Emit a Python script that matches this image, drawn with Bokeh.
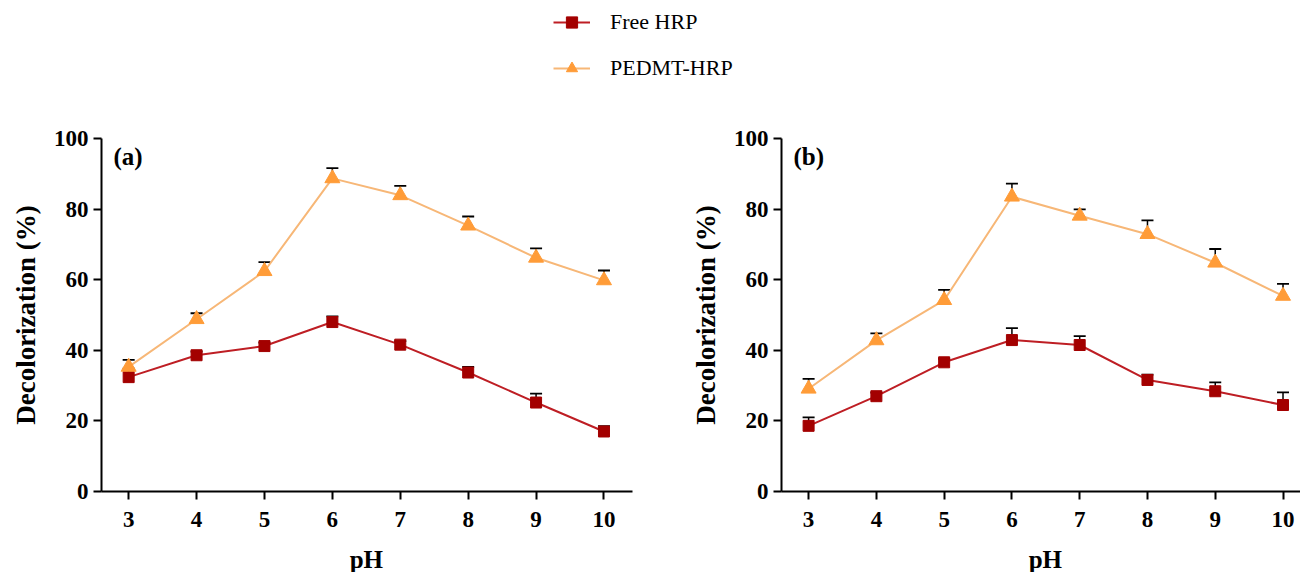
from bokeh.plotting import figure
from bokeh.models import (ColumnDataSource, Range1d, Whisker, TeeHead, Legend,
                          LegendItem, Label, FixedTicker)
from bokeh.layouts import column, row
from bokeh.embed import file_html
from bokeh.resources import INLINE

# ---------------- data ----------------
ph = [3, 4, 5, 6, 7, 8, 9, 10]
y_ticks = [0, 20, 40, 60, 80, 100]

free_a = [32.4, 38.6, 41.2, 48.0, 41.6, 33.7, 25.2, 17.0]
free_a_err = [2.4, 1.0, 1.0, 1.6, 1.0, 1.6, 2.5, 1.5]
pedmt_a = [35.3, 48.8, 62.4, 88.7, 83.9, 75.3, 66.2, 59.8]
pedmt_a_err = [2.0, 1.7, 2.6, 2.9, 2.7, 2.6, 2.7, 2.8]

free_b = [18.6, 27.0, 36.6, 42.9, 41.5, 31.6, 28.4, 24.5]
free_b_err = [2.4, 1.0, 1.0, 3.4, 2.5, 1.5, 2.5, 3.6]
pedmt_b = [29.1, 42.8, 54.2, 83.5, 78.1, 72.9, 64.8, 55.4]
pedmt_b_err = [2.8, 2.0, 2.9, 3.7, 1.8, 3.9, 3.9, 3.4]

series_names = ["Free HRP", "PEDMT-HRP"]
panel_tags = ["(a)", "(b)"]
x_title = "pH"
y_title = "Decolorization (%)"

# ---------------- style ----------------
FONT = "Liberation Serif"
FREE_LINE = "#BE1E24"
FREE_FILL = "#A30000"
PED_LINE = "#F7B777"
PED_FILL = "#FF9C38"

LEG_H = 82
PANEL_H = 459
TOP_B = 56
BOT_B = 50
FRAME_H = PANEL_H - TOP_B - BOT_B
STRIP_H = 31


def make_panel(width, left_border, right_border, x_end, free, free_err, ped, ped_err, tag):
    p = figure(width=width, height=PANEL_H, output_backend="svg",
               toolbar_location=None, x_range=Range1d(2.6, x_end),
               y_range=Range1d(0, 100),
               min_border_left=left_border, min_border_right=right_border,
               min_border_top=TOP_B, min_border_bottom=BOT_B)
    p.outline_line_color = None
    p.grid.visible = False
    p.background_fill_color = "white"

    for ax in (p.xaxis[0], p.yaxis[0]):
        ax.axis_line_width = 2
        ax.axis_line_color = "black"
        ax.major_tick_line_width = 2
        ax.major_tick_line_color = "black"
        ax.major_tick_out = 8
        ax.major_tick_in = 0
        ax.minor_tick_line_color = None
        ax.major_label_text_font = FONT
        ax.major_label_text_font_style = "bold"
        ax.major_label_text_font_size = "23px"
        ax.major_label_text_color = "black"
        ax.axis_label_text_font = FONT
        ax.axis_label_text_font_style = "bold"
        ax.axis_label_text_color = "black"

    p.xaxis.ticker = FixedTicker(ticks=ph)
    p.yaxis.ticker = FixedTicker(ticks=y_ticks)
    p.xaxis.major_label_standoff = 12
    p.yaxis.major_label_standoff = 5
    p.yaxis.axis_label = y_title
    p.yaxis.axis_label_text_font_size = "27px"
    p.yaxis.axis_label_standoff = 10

    for vals, errs in ((free, free_err), (ped, ped_err)):
        src = ColumnDataSource(dict(x=ph, lower=vals,
                                    upper=[v + e for v, e in zip(vals, errs)]))
        w = Whisker(base="x", lower="lower", upper="upper", source=src,
                    dimension="height", line_color="black", line_width=1.5,
                    lower_head=None,
                    upper_head=TeeHead(size=12, line_color="black", line_width=1.8))
        p.add_layout(w)

    p.line(ph, free, line_color=FREE_LINE, line_width=2)
    p.scatter(ph, free, marker="square", size=11, fill_color=FREE_FILL,
              line_color=FREE_FILL)
    p.line(ph, ped, line_color=PED_LINE, line_width=2)
    p.scatter(ph, ped, marker="triangle", size=15, fill_color=PED_FILL,
              line_color=PED_FILL)

    p.add_layout(Label(x=12, y=FRAME_H - 18, x_units="screen", y_units="screen",
                       text=tag, text_font=FONT, text_font_style="bold",
                       text_font_size="25px", text_baseline="middle",
                       text_color="black"))
    return p


def make_strip(panel):
    """Strip under a panel, sharing its x range, carrying the x-axis title."""
    s = figure(width=panel.width, height=STRIP_H, output_backend="svg",
               toolbar_location=None, x_axis_type=None, y_axis_type=None,
               x_range=panel.x_range, y_range=Range1d(0, 1),
               min_border_left=panel.min_border_left,
               min_border_right=panel.min_border_right,
               min_border_top=0, min_border_bottom=0)
    s.outline_line_color = None
    s.grid.visible = False
    s.add_layout(Label(x=(ph[0] + ph[-1]) / 2, y=13, y_units="screen",
                       text=x_title, text_font=FONT, text_font_style="bold",
                       text_font_size="25px", text_baseline="middle",
                       text_align="center", text_color="black"))
    return s


pa = make_panel(687, 101, 55, 10.42, free_a, free_a_err, pedmt_a, pedmt_a_err, panel_tags[0])
pb = make_panel(613, 93, 0, 10.258, free_b, free_b_err, pedmt_b, pedmt_b_err, panel_tags[1])
sa = make_strip(pa)
sb = make_strip(pb)

# ---------------- legend figure ----------------
leg = figure(width=1300, height=LEG_H, output_backend="svg", toolbar_location=None,
             x_axis_type=None, y_axis_type=None, x_range=Range1d(0, 1),
             y_range=Range1d(0, 1), min_border=0)
leg.outline_line_color = None
leg.grid.visible = False
# legend swatches (data lies outside this strip's ranges, only the legend shows)
l1 = leg.line(ph, free_a, line_color=FREE_LINE, line_width=2)
s1 = leg.scatter(ph, free_a, marker="square", fill_color=FREE_FILL, line_color=FREE_FILL)
l2 = leg.line(ph, pedmt_a, line_color=PED_LINE, line_width=2)
s2 = leg.scatter(ph, pedmt_a, marker="triangle", fill_color=PED_FILL, line_color=PED_FILL)
legend = Legend(items=[LegendItem(label=series_names[0], renderers=[l1, s1]),
                       LegendItem(label=series_names[1], renderers=[l2, s2])],
                location=(553, 0), orientation="vertical",
                glyph_width=37, glyph_height=28, label_height=28,
                label_standoff=20, spacing=18, padding=0, margin=0,
                border_line_color=None, background_fill_alpha=0,
                label_text_font=FONT, label_text_font_size="22px",
                label_text_color="black", label_text_baseline="middle")
leg.add_layout(legend)

layout = column(leg, row(pa, pb), row(sa, sb))

open("out.html", "w").write(file_html(layout, INLINE))
